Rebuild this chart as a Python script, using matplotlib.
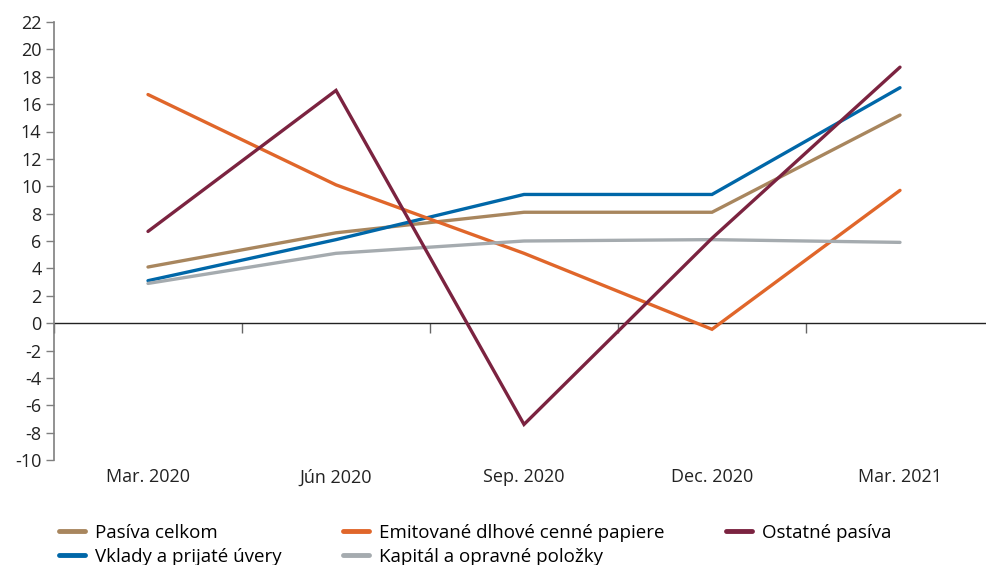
import matplotlib.pyplot as plt
import numpy as np

plt.rcParams["font.family"] = ["Open Sans", "DejaVu Sans"]

# ------------------------------------------------------------
# DATA
# ------------------------------------------------------------
categories = ["Mar. 2020", "Jún 2020", "Sep. 2020", "Dec. 2020", "Mar. 2021"]

pasiva_celkom = [4.1, 6.6, 8.1, 8.1, 15.2]
emitovane = [16.7, 10.1, 5.1, -0.45, 9.7]
ostatne = [6.7, 17.0, -7.4, 6.2, 18.7]
vklady = [3.1, 6.1, 9.4, 9.4, 17.2]
kapital = [2.9, 5.1, 6.0, 6.1, 5.9]

series = [
    ("Pasíva celkom", pasiva_celkom, "#A8865E"),
    ("Vklady a prijaté úvery", vklady, "#0067A8"),
    ("Emitované dlhové cenné papiere", emitovane, "#E0662A"),
    ("Kapitál a opravné položky", kapital, "#A5ABAF"),
    ("Ostatné pasíva", ostatne, "#7B2340"),
]

yticks = list(range(-10, 23, 2))

# ------------------------------------------------------------
# FIGURE
# ------------------------------------------------------------
fig = plt.figure(figsize=(9.86, 5.65), dpi=100)
ax = fig.add_axes([54 / 986, 1 - 460 / 565, 940 / 986, 438 / 565])

x = np.arange(len(categories))

for label, values, color in series:
    ax.plot(x, values, color=color, linewidth=2.4, label=label,
            solid_capstyle="round", solid_joinstyle="miter")

ax.set_xlim(-0.5, len(categories) - 0.5)
ax.set_ylim(-10, 22)

# y axis
ax.set_yticks(yticks)
ax.set_yticklabels([str(v) for v in yticks])
ax.tick_params(axis="y", direction="out", length=6, width=1,
               color="#7f7f7f", labelsize=13, pad=3, labelcolor="#222222")
ax.spines["left"].set_color("#7f7f7f")
ax.spines["left"].set_linewidth(1.2)

for side in ["top", "right", "bottom"]:
    ax.spines[side].set_visible(False)

# category labels below the plot
ax.set_xticks(x)
ax.set_xticklabels(categories)
ax.tick_params(axis="x", length=0, labelsize=13, pad=6, labelcolor="#222222")

# zero line with boundary ticks
ymin, ymax = ax.get_ylim()
zero_axis = ax.secondary_xaxis((0 - ymin) / (ymax - ymin))
zero_axis.spines["bottom"].set_color("#222222")
zero_axis.spines["bottom"].set_linewidth(1)
zero_axis.set_xticks(np.arange(-0.5, len(categories), 1.0))
zero_axis.tick_params(axis="x", direction="out", length=7, width=1,
                      color="#666666", labelbottom=False)

# ------------------------------------------------------------
# LEGEND
# ------------------------------------------------------------
handles, labels = ax.get_legend_handles_labels()
leg = fig.legend(handles, labels, ncol=3, loc="upper left",
                 bbox_to_anchor=(51 / 986, 1 - 516 / 565),
                 frameon=False, fontsize=13.5, handlelength=1.4,
                 handletextpad=0.55, columnspacing=3.25,
                 labelspacing=0.32, borderaxespad=0)
for line in leg.get_lines():
    line.set_linewidth(3.5)

fig.savefig("out.png", dpi=100)
